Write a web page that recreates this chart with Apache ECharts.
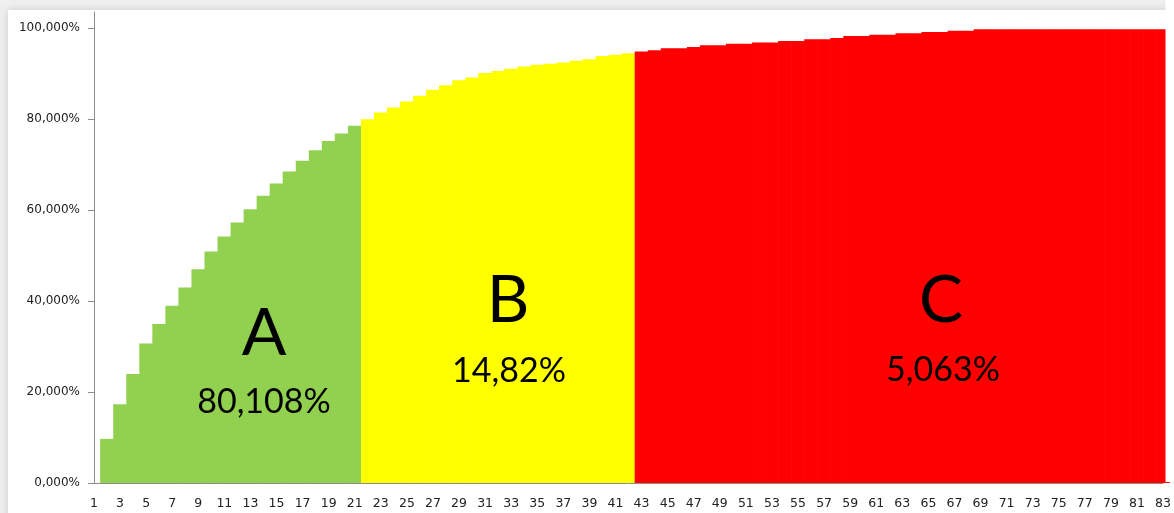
<!DOCTYPE html>
<html>
<head>
    <meta charset="utf-8">
    <title>ABC</title>
    <script src="https://cdn.jsdelivr.net/npm/echarts@6/dist/echarts.min.js"></script>
    <style>
        html, body { margin: 0; padding: 0; background: #efefef; }
        #main { width: 1174px; height: 513px; }
    </style>
</head>
<body>
<div id="main"></div>
<script>
    // 分类 1..83
    var categories = ['1','2','3','4','5','6','7','8','9','10','11','12','13','14','15','16','17','18','19','20',
        '21','22','23','24','25','26','27','28','29','30','31','32','33','34','35','36','37','38','39','40',
        '41','42','43','44','45','46','47','48','49','50','51','52','53','54','55','56','57','58','59','60',
        '61','62','63','64','65','66','67','68','69','70','71','72','73','74','75','76','77','78','79','80',
        '81','82','83'];

    // 累计百分比 (A: 2-21, B: 22-42, C: 43-83), 第 1 项为空
    var valuesA = [9.7, 17.3, 24.0, 30.7, 35.0, 39.0, 43.0, 47.0, 50.9, 54.2,
        57.3, 60.2, 63.2, 65.9, 68.5, 70.9, 73.2, 75.2, 76.9, 78.6];
    var valuesB = [80.0, 81.5, 82.6, 83.9, 85.2, 86.5, 87.5, 88.6, 89.2, 90.2,
        90.6, 91.1, 91.6, 92.0, 92.2, 92.5, 92.9, 93.2, 93.9, 94.2, 94.5];
    var valuesC = [94.9, 95.2, 95.6, 95.6, 95.9, 96.3, 96.3, 96.6, 96.6, 96.9,
        96.9, 97.2, 97.2, 97.6, 97.6, 97.9, 98.3, 98.3, 98.6, 98.6,
        98.9, 98.9, 99.2, 99.2, 99.5, 99.5, 99.8, 99.8, 99.8, 99.8,
        99.8, 99.8, 99.8, 99.8, 99.8, 99.8, 99.8, 99.8, 99.8, 99.8, 99.8];

    var yTicks = [0, 20, 40, 60, 80, 100];

    var groupNames = ['A', 'B', 'C'];
    var groupShares = ['80,108%', '14,82%', '5,063%'];
    var groupColors = ['#92D050', '#FFFF00', '#FF0000'];

    function pad(n) {
        var arr = [];
        for (var i = 0; i < n; i++) arr.push('-');
        return arr;
    }

    var startA = 1;
    var startB = startA + valuesA.length;
    var startC = startB + valuesB.length;
    var dataA = pad(startA).concat(valuesA, pad(categories.length - startB));
    var dataB = pad(startB).concat(valuesB, pad(categories.length - startC));
    var dataC = pad(startC).concat(valuesC);

    function pctLabel(v) {
        return v.toFixed(3).replace('.', ',') + '%';
    }

    // 柱子略宽于类目, 避免相邻柱子间出现细缝
    function barSeries(i, data) {
        return {
            name: groupNames[i], type: 'bar', data: data, clip: true,
            barWidth: '105%', barGap: '-100%',
            itemStyle: { color: groupColors[i] }
        };
    }

    var chart = echarts.init(document.getElementById('main'));

    var gridBox = { left: 94, right: 9, top: 12, bottom: 30 };
    var bigFont = 'normal 66px Lato, "Open Sans", sans-serif';
    var midFont = 'normal 34px Lato, "Open Sans", sans-serif';
    var axisFont = '"DejaVu Sans", sans-serif';

    function label(x, y, text, font) {
        return {
            type: 'text', z: 10, silent: true,
            style: { x: x, y: y, text: text, font: font, fill: '#000',
                textAlign: 'center', align: 'center', textVerticalAlign: 'bottom', verticalAlign: 'bottom' }
        };
    }

    var plotRight = 1174 - gridBox.right;

    var option = {
        animation: false,
        grid: gridBox,
        xAxis: {
            type: 'category',
            data: categories,
            boundaryGap: false,
            axisLine: { lineStyle: { color: '#8c8c8c', width: 1 } },
            axisTick: { show: false },
            axisLabel: {
                interval: 1,
                margin: 14,
                color: '#222',
                fontSize: 12.5,
                fontFamily: axisFont
            },
            splitLine: { show: false }
        },
        yAxis: {
            type: 'value',
            min: 0,
            max: 103.6,
            axisLine: { show: true, lineStyle: { color: '#8c8c8c', width: 1 } },
            axisTick: {
                show: true,
                length: 6,
                customValues: yTicks,
                lineStyle: { color: '#8c8c8c' }
            },
            axisLabel: {
                customValues: yTicks,
                margin: 14,
                color: '#222',
                fontSize: 12,
                fontFamily: axisFont,
                formatter: pctLabel
            },
            splitLine: { show: false }
        },
        series: [
            barSeries(0, dataA),
            barSeries(1, dataB),
            barSeries(2, dataC)
        ],
        graphic: [
            {
                type: 'rect', z: -10, silent: true,
                shape: { x: 8, y: 10, width: 1200, height: 520 },
                style: { fill: '#ffffff', shadowBlur: 8, shadowColor: 'rgba(0,0,0,0.15)' }
            },
            // 绘图区右侧裁切 (最后一根柱子只显示一半)
            {
                type: 'rect', z: 5, silent: true,
                shape: { x: plotRight + 0.5, y: 0, width: 20, height: 513 - gridBox.bottom - 1 },
                style: { fill: '#ffffff' }
            },
            label(264, 367, groupNames[0], bigFont),
            label(264, 419, groupShares[0], midFont),
            label(508, 334, groupNames[1], bigFont),
            label(509, 388, groupShares[1], midFont),
            label(941, 334, groupNames[2], bigFont),
            label(943, 387, groupShares[2], midFont)
        ]
    };

    chart.setOption(option);
</script>
</body>
</html>
